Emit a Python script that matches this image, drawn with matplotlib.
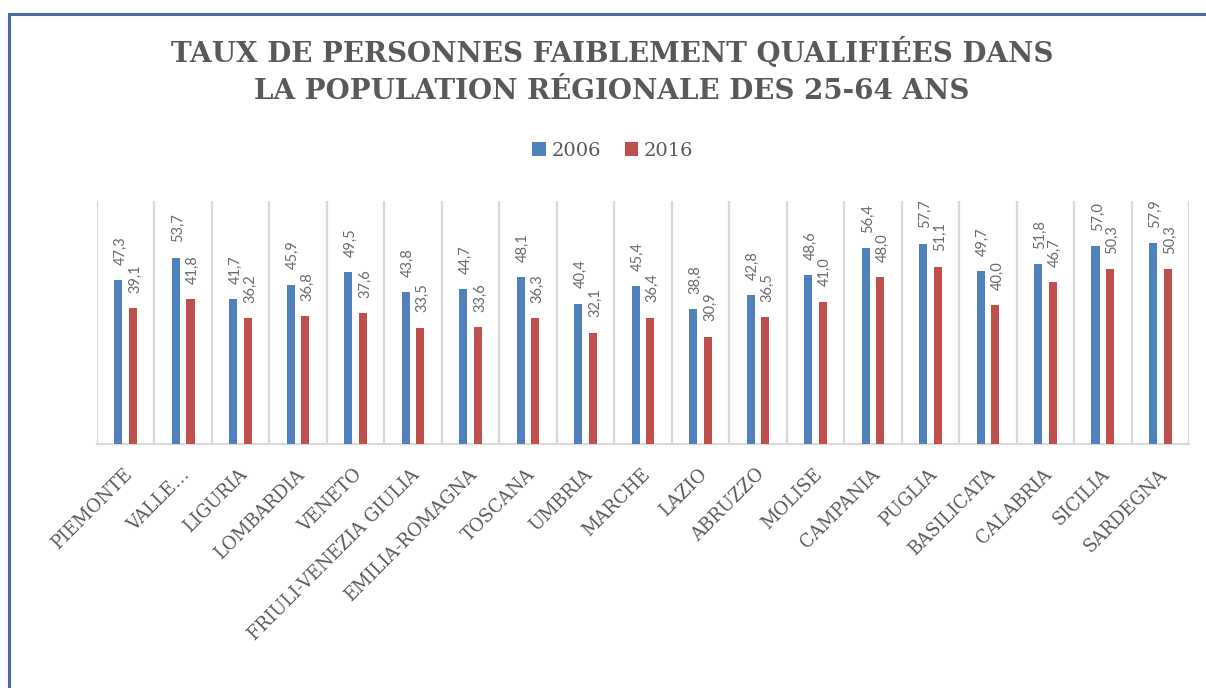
import matplotlib
matplotlib.use("Agg")
import matplotlib.pyplot as plt
import matplotlib.transforms as mtransforms
from matplotlib.patches import Rectangle
import numpy as np

regions = ["PIEMONTE", "VALLE…", "LIGURIA", "LOMBARDIA", "VENETO",
           "FRIULI-VENEZIA GIULIA", "EMILIA-ROMAGNA", "TOSCANA", "UMBRIA",
           "MARCHE", "LAZIO", "ABRUZZO", "MOLISE", "CAMPANIA", "PUGLIA",
           "BASILICATA", "CALABRIA", "SICILIA", "SARDEGNA"]
v2006 = [47.3, 53.7, 41.7, 45.9, 49.5, 43.8, 44.7, 48.1, 40.4, 45.4,
         38.8, 42.8, 48.6, 56.4, 57.7, 49.7, 51.8, 57.0, 57.9]
v2016 = [39.1, 41.8, 36.2, 36.8, 37.6, 33.5, 33.6, 36.3, 32.1, 36.4,
         30.9, 36.5, 41.0, 48.0, 51.1, 40.0, 46.7, 50.3, 50.3]
series_names = ["2006", "2016"]

blue = "#4f81bd"
red = "#c0504d"
grey = "#595959"
serif = ["DejaVu Serif"]

fig = plt.figure(figsize=(12.06, 6.88), dpi=100)
ax = fig.add_axes([97 / 1206, 1 - 444 / 688, (1189 - 97) / 1206, (444 - 201) / 688])

x = np.arange(len(regions))
w = 0.14
off = 0.127
b1 = ax.bar(x - off, v2006, w, color=blue, label=series_names[0], zorder=3)
b2 = ax.bar(x + off, v2016, w, color=red, label=series_names[1], zorder=3)

for bars in (b1, b2):
    for rect in bars:
        val = rect.get_height()
        ax.annotate(f"{val:.1f}".replace(".", ","),
                    (rect.get_x() + rect.get_width() / 2, val),
                    xytext=(1.5, 11), textcoords="offset points",
                    rotation=90, ha="center", va="bottom",
                    fontsize=10.5, color="#6a6a6a", family="Lato")

ax.set_xlim(-0.5, len(regions) - 0.5)
ax.set_ylim(0, 70)
ax.set_yticks([])

# separators between categories
ax.set_xticks(np.arange(len(regions) + 1) - 0.5, minor=True)
ax.grid(which="minor", axis="x", color="#d9d9d9", lw=1.6, zorder=0)
ax.tick_params(which="both", length=0)

ax.set_xticks(x)
ax.set_xticklabels(regions, rotation=45, ha="right", va="center",
                   rotation_mode="anchor", fontsize=13, color=grey,
                   family=serif)
ax.tick_params(axis="x", pad=20)
shift = mtransforms.ScaledTranslation(4 / 100, 0, fig.dpi_scale_trans)
for lab in ax.get_xticklabels():
    lab.set_transform(lab.get_transform() + shift)

for s in ["top", "left", "right"]:
    ax.spines[s].set_visible(False)
ax.spines["bottom"].set_color("#d9d9d9")
ax.spines["bottom"].set_linewidth(1.6)

fig.text(0.5075, 1 - 71 / 688,
         "TAUX DE PERSONNES FAIBLEMENT QUALIFIÉES DANS\nLA POPULATION RÉGIONALE DES 25-64 ANS",
         ha="center", va="center", fontsize=20, fontweight="bold",
         color=grey, family=serif, linespacing=1.5)

ax.legend(loc="center", bbox_to_anchor=(613 / 1206, 1 - 151 / 688),
          bbox_transform=fig.transFigure, ncol=2, frameon=False,
          handlelength=0.7, handleheight=0.7, handletextpad=0.3,
          columnspacing=1.2, prop={"family": serif, "size": 14},
          labelcolor=grey)

fig.patches.append(Rectangle((9 / 1206, -0.1), 1.2, (688 - 14) / 688 + 0.1,
                             transform=fig.transFigure, fill=False,
                             edgecolor="#4a6a9c", lw=2.2))

fig.savefig("out.png", dpi=100, facecolor="white")
